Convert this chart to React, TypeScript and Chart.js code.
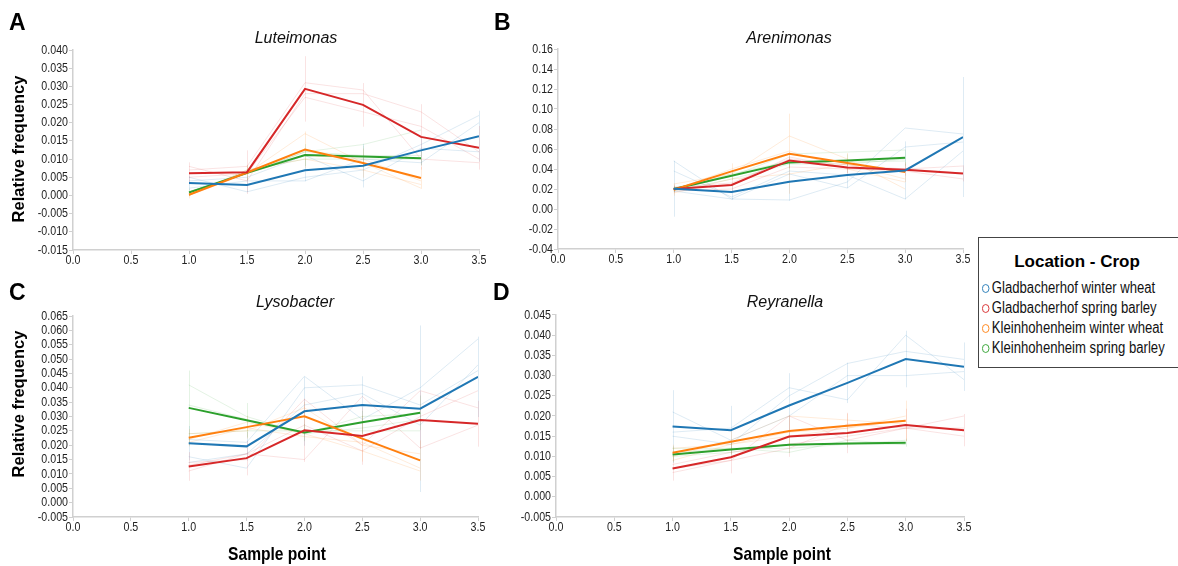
import React, { useEffect, useRef } from "react";
import { Chart, registerables } from "chart.js";

Chart.register(...registerables);

// ---------- shared data ----------
const samplePoints = [1.0, 1.5, 2.0, 2.5, 3.0, 3.5];
const xTickValues = [0, 0.5, 1, 1.5, 2, 2.5, 3, 3.5];
const seriesNames = [
  "Gladbacherhof winter wheat",
  "Gladbacherhof spring barley",
  "Kleinhohenheim winter wheat",
  "Kleinhohenheim spring barley",
];
const seriesColors = ["#1f77b4", "#d62728", "#ff7f0e", "#2ca02c"];
const seriesFaint = [
  "rgba(31,119,180,0.15)",
  "rgba(214,39,40,0.13)",
  "rgba(255,127,14,0.15)",
  "rgba(44,160,44,0.13)",
];

// ---------- A: Luteimonas ----------
const lutMeanGW = [0.0034, 0.0029, 0.0069, 0.0082, 0.0124, 0.0163];
const lutMeanGS = [0.0061, 0.0064, 0.0293, 0.0249, 0.0161, 0.0131];
const lutMeanKW = [0.0002, 0.0063, 0.0126, 0.0089, 0.0048];
const lutMeanKS = [0.0008, 0.0062, 0.0111, 0.0107, 0.0102];
const lutErrGW = [0.002, 0.002, 0.003, 0.006, 0.004, 0.007];
const lutErrGS = [0.003, 0.006, 0.009, 0.006, 0.009, 0.006];
const lutErrKW = [0.001, 0.002, 0.005, 0.004, 0.003];
const lutErrKS = [0.001, 0.002, 0.003, 0.003, 0.002];
const lutRepsGW = [
  [0.005, 0.001, 0.005, 0.007, 0.014, 0.022],
  [0.002, 0.004, 0.004, 0.01, 0.009, 0.02],
  [0.004, 0.005, 0.011, 0.004, 0.013, 0.012],
];
const lutRepsGS = [
  [0.007, 0.008, 0.031, 0.029, 0.01, 0.009],
  [0.005, 0.006, 0.027, 0.023, 0.019, 0.01],
  [0.008, 0.004, 0.028, 0.028, 0.023, 0.012],
];
const lutRepsKW = [
  [0.001, 0.006, 0.017, 0.009, 0.002],
  [0.0, 0.007, 0.01, 0.007, 0.003],
  [0.0, 0.006, 0.011, 0.01, 0.004],
];
const lutRepsKS = [
  [0.001, 0.006, 0.012, 0.014, 0.018],
  [0.001, 0.006, 0.012, 0.011, 0.011],
  [0.0, 0.007, 0.01, 0.01, 0.01],
];

// ---------- B: Arenimonas ----------
const areMeanGW = [0.0203, 0.017, 0.0273, 0.034, 0.0386, 0.072];
const areMeanGS = [0.02, 0.024, 0.0486, 0.0416, 0.0393, 0.0356];
const areMeanKW = [0.0193, 0.0376, 0.0553, 0.046, 0.037];
const areMeanKS = [0.02, 0.0333, 0.0466, 0.0486, 0.0513];
const areErrGW = [0.028, 0.008, 0.019, 0.013, 0.029, 0.06];
const areErrGS = [0.004, 0.006, 0.008, 0.006, 0.006, 0.008];
const areErrKW = [0.006, 0.008, 0.04, 0.01, 0.01];
const areErrKS = [0.003, 0.004, 0.006, 0.006, 0.008];
const areRepsGW = [
  [0.048, 0.01, 0.009, 0.027, 0.081, 0.075],
  [0.038, 0.012, 0.038, 0.034, 0.01, 0.058],
  [0.018, 0.01, 0.035, 0.021, 0.062, 0.067],
];
const areRepsGS = [
  [0.022, 0.026, 0.05, 0.044, 0.04, 0.043],
  [0.018, 0.02, 0.042, 0.04, 0.038, 0.03],
  [0.021, 0.024, 0.052, 0.041, 0.04, 0.036],
];
const areRepsKW = [
  [0.025, 0.035, 0.073, 0.05, 0.02],
  [0.016, 0.03, 0.035, 0.045, 0.03],
  [0.019, 0.04, 0.058, 0.04, 0.027],
];
const areRepsKS = [
  [0.021, 0.033, 0.055, 0.057, 0.059],
  [0.018, 0.03, 0.045, 0.045, 0.05],
  [0.02, 0.035, 0.048, 0.047, 0.048],
];

// ---------- C: Lysobacter ----------
const lysMeanGW = [0.0207, 0.0196, 0.0318, 0.034, 0.0327, 0.0438];
const lysMeanGS = [0.0126, 0.0155, 0.0252, 0.0232, 0.0288, 0.0275];
const lysMeanKW = [0.0226, 0.0263, 0.0301, 0.0223, 0.0147];
const lysMeanKS = [0.033, 0.0287, 0.0244, 0.028, 0.0313];
const lysErrGW = [0.006, 0.005, 0.012, 0.01, 0.029, 0.014];
const lysErrGS = [0.005, 0.006, 0.011, 0.01, 0.01, 0.008];
const lysErrKW = [0.003, 0.004, 0.005, 0.008, 0.007];
const lysErrKS = [0.013, 0.006, 0.003, 0.004, 0.006];
const lysRepsGW = [
  [0.022, 0.021, 0.044, 0.029, 0.04, 0.057],
  [0.016, 0.012, 0.04, 0.041, 0.034, 0.046],
  [0.014, 0.017, 0.034, 0.038, 0.027, 0.048],
];
const lysRepsGS = [
  [0.011, 0.017, 0.015, 0.037, 0.019, 0.027],
  [0.014, 0.015, 0.036, 0.02, 0.039, 0.033],
  [0.013, 0.017, 0.027, 0.018, 0.03, 0.039],
];
const lysRepsKW = [
  [0.024, 0.025, 0.033, 0.02, 0.017],
  [0.022, 0.028, 0.024, 0.018, 0.011],
  [0.021, 0.026, 0.023, 0.021, 0.012],
];
const lysRepsKS = [
  [0.041, 0.03, 0.024, 0.026, 0.029],
  [0.024, 0.025, 0.025, 0.025, 0.025],
  [0.034, 0.029, 0.024, 0.03, 0.031],
];

// ---------- D: Reyranella ----------
const reyMeanGW = [0.0174, 0.0165, 0.0226, 0.0282, 0.0341, 0.0322];
const reyMeanGS = [0.007, 0.0098, 0.0149, 0.0158, 0.0178, 0.0165];
const reyMeanKW = [0.0109, 0.0136, 0.0163, 0.0176, 0.0188];
const reyMeanKS = [0.0105, 0.0117, 0.0129, 0.0132, 0.0134];
const reyErrGW = [0.009, 0.006, 0.008, 0.005, 0.007, 0.006];
const reyErrGS = [0.003, 0.004, 0.005, 0.005, 0.004, 0.004];
const reyErrKW = [0.002, 0.003, 0.004, 0.003, 0.005];
const reyErrKS = [0.002, 0.002, 0.002, 0.001, 0.001];
const reyRepsGW = [
  [0.016, 0.017, 0.027, 0.024, 0.04, 0.029],
  [0.015, 0.013, 0.025, 0.033, 0.036, 0.034],
  [0.021, 0.014, 0.02, 0.03, 0.03, 0.031],
];
const reyRepsGS = [
  [0.006, 0.009, 0.02, 0.014, 0.017, 0.02],
  [0.008, 0.011, 0.013, 0.015, 0.017, 0.017],
  [0.007, 0.009, 0.012, 0.018, 0.017, 0.015],
];
const reyRepsKW = [
  [0.01, 0.014, 0.02, 0.019, 0.018],
  [0.012, 0.013, 0.016, 0.017, 0.019],
  [0.009, 0.013, 0.015, 0.017, 0.02],
];
const reyRepsKS = [
  [0.012, 0.012, 0.012, 0.013, 0.013],
  [0.01, 0.011, 0.013, 0.013, 0.014],
  [0.011, 0.012, 0.011, 0.014, 0.013],
];

// ---------- y-axis tick settings ----------
const lutYTicks = { min: -0.015, max: 0.04, step: 0.005, decimals: 3 };
const areYTicks = { min: -0.04, max: 0.16, step: 0.02, decimals: 2 };
const lysYTicks = { min: -0.005, max: 0.065, step: 0.005, decimals: 3 };
const reyYTicks = { min: -0.005, max: 0.045, step: 0.005, decimals: 3 };

const SANS = "'Liberation Sans', Arial, sans-serif";
const CONDENSE = 0.82;

type PanelDef = {
  means: number[][];
  errs: number[][];
  reps: number[][][];
  yTicks: { min: number; max: number; step: number; decimals: number };
  box: { left: number; top: number; width: number; height: number };
  area: { left: number; top: number; right: number; bottom: number };
};

const panels: PanelDef[] = [
  {
    means: [lutMeanGW, lutMeanGS, lutMeanKW, lutMeanKS],
    errs: [lutErrGW, lutErrGS, lutErrKW, lutErrKS],
    reps: [lutRepsGW, lutRepsGS, lutRepsKW, lutRepsKS],
    yTicks: lutYTicks,
    box: { left: 0, top: 0, width: 490, height: 275 },
    area: { left: 73, top: 50, right: 479, bottom: 250 },
  },
  {
    means: [areMeanGW, areMeanGS, areMeanKW, areMeanKS],
    errs: [areErrGW, areErrGS, areErrKW, areErrKS],
    reps: [areRepsGW, areRepsGS, areRepsKW, areRepsKS],
    yTicks: areYTicks,
    box: { left: 490, top: 0, width: 490, height: 275 },
    area: { left: 558, top: 49, right: 963, bottom: 249 },
  },
  {
    means: [lysMeanGW, lysMeanGS, lysMeanKW, lysMeanKS],
    errs: [lysErrGW, lysErrGS, lysErrKW, lysErrKS],
    reps: [lysRepsGW, lysRepsGS, lysRepsKW, lysRepsKS],
    yTicks: lysYTicks,
    box: { left: 0, top: 275, width: 490, height: 270 },
    area: { left: 73, top: 316, right: 478, bottom: 517 },
  },
  {
    means: [reyMeanGW, reyMeanGS, reyMeanKW, reyMeanKS],
    errs: [reyErrGW, reyErrGS, reyErrKW, reyErrKS],
    reps: [reyRepsGW, reyRepsGS, reyRepsKW, reyRepsKS],
    yTicks: reyYTicks,
    box: { left: 490, top: 275, width: 490, height: 270 },
    area: { left: 556, top: 315, right: 964, bottom: 517 },
  },
];

const toPts = (vals: number[]) => vals.map((v, i) => ({ x: samplePoints[i], y: v }));

const errorBarPlugin = {
  id: "errorBars",
  beforeDatasetsDraw(chart: any, _args: any, opts: any) {
    const { ctx, scales } = chart;
    const list = opts.bars || [];
    ctx.save();
    ctx.lineWidth = 1;
    list.forEach((b: any) => {
      ctx.strokeStyle = b.color;
      b.mean.forEach((m: number, i: number) => {
        const px = scales.x.getPixelForValue(samplePoints[i]);
        const y1 = scales.y.getPixelForValue(m - b.err[i]);
        const y2 = scales.y.getPixelForValue(m + b.err[i]);
        ctx.beginPath();
        ctx.moveTo(Math.round(px) + 0.5, y1);
        ctx.lineTo(Math.round(px) + 0.5, y2);
        ctx.stroke();
      });
    });
    ctx.restore();
  },
};

// draws the scales' tick labels in a condensed (narrow) style
const condensedTicksPlugin = {
  id: "condensedTicks",
  afterDraw(chart: any, _args: any, opts: any) {
    const { ctx, scales, chartArea } = chart;
    ctx.save();
    ctx.fillStyle = "#222";
    ctx.font = `13px ${SANS}`;
    scales.x.ticks.forEach((t: any) => {
      const px = scales.x.getPixelForValue(t.value);
      ctx.save();
      ctx.translate(px, chartArea.bottom + 4);
      ctx.scale(CONDENSE, 1);
      ctx.textAlign = "center";
      ctx.textBaseline = "top";
      ctx.fillText(Number(t.value).toFixed(1), 0, 0);
      ctx.restore();
    });
    scales.y.ticks.forEach((t: any) => {
      const py = scales.y.getPixelForValue(t.value);
      ctx.save();
      ctx.translate(chartArea.left - 5, py);
      ctx.scale(CONDENSE, 1);
      ctx.textAlign = "right";
      ctx.textBaseline = "middle";
      ctx.fillText(Number(t.value).toFixed(opts.decimals), 0, 0);
      ctx.restore();
    });
    ctx.restore();
  },
};

function Panel({ def }: { def: PanelDef }) {
  const ref = useRef<HTMLCanvasElement>(null);
  useEffect(() => {
    if (!ref.current) return;
    const { box, area, yTicks } = def;
    const yWidth = area.left - box.left;
    const xHeight = box.top + box.height - area.bottom;
    const padTop = area.top - box.top;
    const padRight = box.left + box.width - area.right;

    const datasets: any[] = [];
    def.means.forEach((m, si) => {
      datasets.push({
        label: seriesNames[si],
        data: toPts(m),
        borderColor: seriesColors[si],
        backgroundColor: seriesColors[si],
        borderWidth: 2,
        pointRadius: 0,
        showLine: true,
        fill: false,
        tension: 0,
        order: 0,
      });
    });
    def.reps.forEach((reps, si) => {
      reps.forEach((r) => {
        datasets.push({
          label: seriesNames[si] + " replicate",
          data: toPts(r),
          borderColor: seriesFaint[si],
          borderWidth: 1,
          pointRadius: 0,
          showLine: true,
          fill: false,
          tension: 0,
          order: 1,
        });
      });
    });

    const axisColor = "#d0d0d0";
    const chart = new Chart(ref.current, {
      type: "scatter",
      data: { datasets },
      options: {
        responsive: false,
        animation: false,
        devicePixelRatio: 1,
        layout: { padding: { top: padTop, right: padRight, left: 0, bottom: 0 } },
        plugins: {
          legend: { display: false },
          tooltip: { enabled: false },
          title: { display: false },
          errorBars: {
            bars: def.means.map((m, si) => ({ mean: m, err: def.errs[si], color: seriesFaint[si] })),
          },
          condensedTicks: { decimals: yTicks.decimals },
        } as any,
        scales: {
          x: {
            type: "linear",
            min: 0,
            max: 3.5,
            afterBuildTicks: (s: any) => {
              s.ticks = xTickValues.map((v) => ({ value: v }));
            },
            afterFit: (s: any) => {
              s.height = xHeight;
            },
            ticks: { display: false },
            grid: { drawOnChartArea: false, drawTicks: true, tickLength: 4, color: axisColor },
            border: { display: true, color: axisColor, width: 1.5 },
          },
          y: {
            type: "linear",
            min: yTicks.min,
            max: yTicks.max,
            afterBuildTicks: (s: any) => {
              const n = Math.round((yTicks.max - yTicks.min) / yTicks.step);
              const t = [];
              for (let i = 0; i <= n; i++) t.push({ value: yTicks.min + i * yTicks.step });
              s.ticks = t;
            },
            afterFit: (s: any) => {
              s.width = yWidth;
            },
            ticks: { display: false },
            grid: { drawOnChartArea: false, drawTicks: true, tickLength: 4, color: axisColor },
            border: { display: true, color: axisColor, width: 1.5 },
          },
        },
      } as any,
      plugins: [errorBarPlugin, condensedTicksPlugin],
    });
    return () => chart.destroy();
  }, [def]);
  const { box } = def;
  return (
    <canvas
      ref={ref}
      width={box.width}
      height={box.height}
      style={{ position: "absolute", left: box.left, top: box.top, width: box.width, height: box.height }}
    />
  );
}

const panelLetters = [
  { text: "A", left: 9, top: 11 },
  { text: "B", left: 494, top: 11 },
  { text: "C", left: 9, top: 281 },
  { text: "D", left: 493, top: 281 },
];
const panelTitles = [
  { text: "Luteimonas", cx: 296, cy: 38 },
  { text: "Arenimonas", cx: 789, cy: 38 },
  { text: "Lysobacter", cx: 295, cy: 302 },
  { text: "Reyranella", cx: 785, cy: 302 },
];
const yTitles = [
  { text: "Relative frequency", cx: 18, cy: 149 },
  { text: "Relative frequency", cx: 18, cy: 404 },
];
const xTitles = [
  { text: "Sample point", cx: 277, cy: 554 },
  { text: "Sample point", cx: 782, cy: 554 },
];
const legendTitle = "Location - Crop";

export default function App() {
  return (
    <div
      style={{
        position: "absolute",
        left: 0,
        top: 0,
        width: 1178,
        height: 566,
        background: "#fff",
        overflow: "hidden",
        fontFamily: SANS,
      }}
    >
      {panels.map((p, i) => (
        <Panel key={i} def={p} />
      ))}
      {panelLetters.map((l) => (
        <div
          key={l.text}
          style={{
            position: "absolute",
            left: l.left,
            top: l.top,
            fontSize: 23,
            fontWeight: "bold",
            lineHeight: "23px",
            color: "#000",
          }}
        >
          {l.text}
        </div>
      ))}
      {panelTitles.map((t) => (
        <div
          key={t.text}
          style={{
            position: "absolute",
            left: t.cx - 100,
            top: t.cy - 10,
            width: 200,
            textAlign: "center",
            fontSize: 16,
            lineHeight: "20px",
            fontStyle: "italic",
            color: "#111",
          }}
        >
          {t.text}
        </div>
      ))}
      {yTitles.map((t, i) => (
        <div
          key={i}
          style={{
            position: "absolute",
            left: t.cx - 100,
            top: t.cy - 10,
            width: 200,
            height: 20,
            lineHeight: "20px",
            textAlign: "center",
            fontSize: 16.5,
            fontWeight: "bold",
            color: "#000",
            transform: "rotate(-90deg)",
          }}
        >
          {t.text}
        </div>
      ))}
      {xTitles.map((t, i) => (
        <div
          key={i}
          style={{
            position: "absolute",
            left: t.cx - 100,
            top: t.cy - 12,
            width: 200,
            lineHeight: "24px",
            textAlign: "center",
            fontSize: 19,
            fontWeight: "bold",
            color: "#000",
            transform: `scaleX(${CONDENSE})`,
          }}
        >
          {t.text}
        </div>
      ))}
      <div
        style={{
          position: "absolute",
          left: 978,
          top: 237,
          width: 210,
          height: 129,
          border: "1.5px solid #444",
          background: "#fff",
        }}
      >
        <div
          style={{
            position: "absolute",
            left: 0,
            top: 13,
            width: 196,
            textAlign: "center",
            fontSize: 17,
            fontWeight: "bold",
            lineHeight: "22px",
            color: "#000",
          }}
        >
          {legendTitle}
        </div>
        {seriesNames.map((n, i) => (
          <div
            key={n}
            style={{
              position: "absolute",
              left: 3,
              top: 40 + i * 20,
              height: 20,
              lineHeight: "20px",
              whiteSpace: "nowrap",
              fontSize: 16,
              color: "#111",
              display: "flex",
              alignItems: "center",
              transform: `scaleX(${CONDENSE})`,
              transformOrigin: "left center",
            }}
          >
            <span
              style={{
                display: "inline-block",
                width: 7,
                height: 7,
                borderRadius: "50%",
                border: `1px solid ${seriesColors[i]}`,
                marginRight: 3,
              }}
            />
            {n}
          </div>
        ))}
      </div>
    </div>
  );
}
